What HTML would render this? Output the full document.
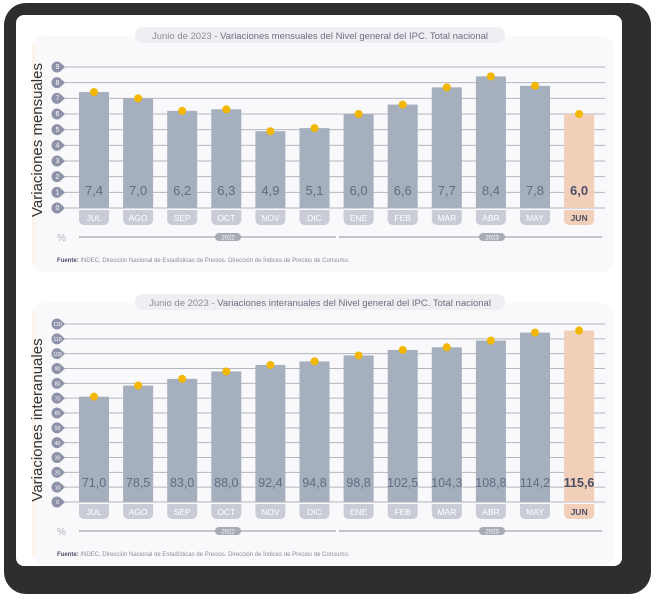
<!DOCTYPE html>
<html><head><meta charset="utf-8">
<style>
html,body{margin:0;padding:0;background:#fff;width:656px;height:600px;overflow:hidden}
svg{display:block;font-family:"Liberation Sans",sans-serif}
</style></head>
<body>
<svg id="s" width="656" height="600">
<rect x="4" y="3" width="647" height="591" rx="22" fill="#2e2e2e"/>
<rect x="16" y="15" width="606" height="551" rx="8" fill="#ffffff"/>
</svg>
<script>
const months = ["JUL","AGO","SEP","OCT","NOV","DIC","ENE","FEB","MAR","ABR","MAY","JUN"];
const monthly = [7.4,7.0,6.2,6.3,4.9,5.1,6.0,6.6,7.7,8.4,7.8,6.0];
const annual = [71.0,78.5,83.0,88.0,92.4,94.8,98.8,102.5,104.3,108.8,114.2,115.6];
const monthlyTicks = [0,1,2,3,4,5,6,7,8,9];
const annualTicks = [0,10,20,30,40,50,60,70,80,90,100,110,120];
const years = ["2022","2023"];
const NS="http://www.w3.org/2000/svg";
const svg=document.getElementById('s');
function mk(tag,attrs,parent,text){const e=document.createElementNS(NS,tag);for(const k in attrs)e.setAttribute(k,attrs[k]);if(text!==undefined)e.textContent=text;(parent||svg).appendChild(e);return e;}
function chart(o){
  const g=mk('g',{});
  
  
  const card=mk('rect',{x:32,y:o.cardY,width:582,height:o.cardH,rx:12,fill:'#f9f8fb'},g);
  
  const edge=mk('rect',{x:32,y:o.cardY+8,width:4,height:o.cardH-16,fill:'#fcf3ec'},g);
  
  const pill=mk('rect',{x:135,y:o.cardY-9,width:370,height:16,rx:8,fill:'#efeef2'},g);
  
  const t=mk('text',{x:320,y:o.cardY+3,'font-size':9.5,'text-anchor':'middle',fill:'#6b6f80'},g);
  
  mk('tspan',{fill:'#8a8d9a'},t,o.titleA);mk('tspan',{},t,o.titleB);
  const yt=mk('text',{x:0,y:0,'font-size':15,fill:'#333','text-anchor':'middle',transform:`translate(${o.yTitleX},${o.yTitleY}) rotate(-90)`},g,o.yTitle);
  
  const yMax=o.ticks[o.ticks.length-1];
  const y=v=>o.y0-(v/yMax)*(o.y0-o.yTop);
  const x=i=>94+i*44.1;
  o.ticks.forEach(v=>{
    const ln=mk('line',{x1:62,x2:605,y1:y(v),y2:y(v),stroke:'#b4b6c0','stroke-width':1},g);
    
    const c=mk('path',{d:`M${57},${y(v)-5.5} a5.5,5.5 0 1 0 0,11 a5.5,5.5 0 0 0 4,-1.8 l4,-3.7 l-4,-3.7 a5.5,5.5 0 0 0 -4,-1.8z`,fill:'#8e92a8'},g);
    
    const tl=mk('text',{x:57.5,y:y(v)+2.2,'font-size':o.tickFs,'text-anchor':'middle',fill:'#fff'},g,String(v));
    
  });
  o.vals.forEach((v,i)=>{
    const last=i===o.vals.length-1;
    const b=mk('rect',{x:x(i)-15,y:y(v),width:30,height:o.y0-y(v),fill:last?'#f1cfb8':'#a5afbe'},g);
    
    const d=mk('circle',{cx:x(i),cy:y(v),r:4,fill:'#f3b700'},g);
    
    const vl=mk('text',{x:x(i),y:o.valY,'font-size':o.valFs,'text-anchor':'middle',fill:last?'#4d4f68':'#646b80','font-weight':last?'bold':'normal'},g,v.toFixed(1).replace('.',','));
    
    const mp=mk('path',{d:`M${x(i)-15},${o.y0+2} h30 v10 a5,5 0 0 1 -5,5 h-20 a5,5 0 0 1 -5,-5z`,fill:last?'#f1cfb8':'#c9ccd6'},g);
    
    const ml=mk('text',{x:x(i),y:o.y0+13,'font-size':8.5,'text-anchor':'middle',fill:last?'#4d4f68':'#fff','font-weight':last?'bold':'normal'},g,months[i]);
    
  });
  const pc=mk('text',{x:57,y:o.y0+33,'font-size':10,fill:'#b0b3bd'},g,'%');
  
  const ly=o.y0+29;
  [[79,336,228],[339,602,492]].forEach((s,k)=>{
    const l=mk('line',{x1:s[0],x2:s[1],y1:ly,y2:ly,stroke:'#8d909c','stroke-width':1},g);
    
    const p=mk('rect',{x:s[2]-13,y:ly-4,width:26,height:8,rx:4,fill:'#a8abb3'},g);
    
    const yl=mk('text',{x:s[2],y:ly+2.5,'font-size':6,'text-anchor':'middle',fill:'#fff'},g,years[k]);
    
  });
  const f=mk('text',{x:57,y:o.y0+54,'font-size':6,fill:'#8a8d9a'},g);
  
  mk('tspan',{'font-weight':'bold',fill:'#4d4f68'},f,'Fuente: ');
  mk('tspan',{},f,'INDEC, Dirección Nacional de Estadísticas de Precios. Dirección de Índices de Precios de Consumo.');
}
chart({name:'monthly-chart',cardY:36,cardH:236,titleA:'Junio de 2023 - ',titleB:'Variaciones mensuales del Nivel general del IPC. Total nacional',yTitle:'Variaciones mensuales',yTitleX:42,yTitleY:140,ticks:monthlyTicks,vals:monthly,y0:208,yTop:67,valY:195,valFs:13,tickFs:7});
chart({name:'annual-chart',cardY:303,cardH:262,titleA:'Junio de 2023 - ',titleB:'Variaciones interanuales del Nivel general del IPC. Total nacional',yTitle:'Variaciones interanuales',yTitleX:42,yTitleY:420,ticks:annualTicks,vals:annual,y0:502,yTop:324,valY:487,valFs:12.5,tickFs:5}); 
</script>
</body></html>
